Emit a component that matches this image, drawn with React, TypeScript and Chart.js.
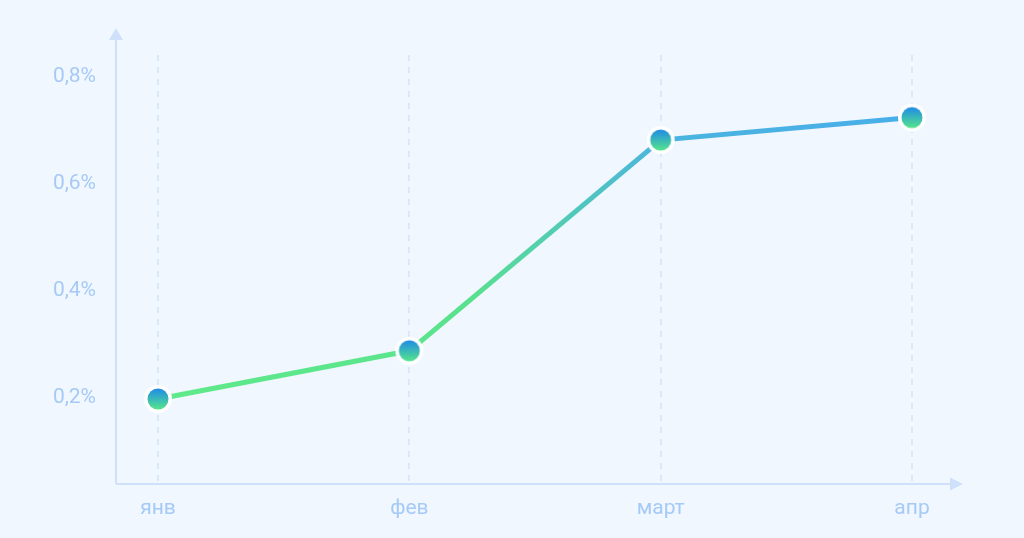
import React, { useEffect, useRef } from "react";
import { Chart, registerables } from "chart.js";

Chart.register(...registerables);

const categories = ["янв", "фев", "март", "апр"];
const values = [0.194, 0.284, 0.678, 0.72];
const yTicks = [0.2, 0.4, 0.6, 0.8];

const BG = "#f0f7ff";
const AXIS = "#cfe1fa";
const TICK = "#a6caf6";
const GRID = "#d9e8fa";

function makePointCanvas(): HTMLCanvasElement {
  const size = 30;
  const c = document.createElement("canvas");
  c.width = size;
  c.height = size;
  const ctx = c.getContext("2d")!;
  const cx = size / 2;
  const r = 10.5;
  ctx.beginPath();
  ctx.arc(cx, cx, r + 3.5, 0, Math.PI * 2);
  ctx.fillStyle = "#ffffff";
  ctx.fill();
  const g = ctx.createLinearGradient(0, cx - r, 0, cx + r);
  g.addColorStop(0, "#1f8be6");
  g.addColorStop(1, "#55e58c");
  ctx.beginPath();
  ctx.arc(cx, cx, r, 0, Math.PI * 2);
  ctx.fillStyle = g;
  ctx.fill();
  return c;
}

const axesPlugin = {
  id: "arrowAxes",
  beforeDatasetsDraw(chart: any) {
    const { ctx, chartArea } = chart;
    const x0 = chartArea.left - 42;
    const y0 = chartArea.bottom;
    const yTop = chartArea.top - 15;
    const xEnd = chartArea.right + 38;
    ctx.save();
    ctx.strokeStyle = AXIS;
    ctx.fillStyle = AXIS;
    ctx.lineWidth = 2;
    ctx.beginPath();
    ctx.moveTo(x0, y0);
    ctx.lineTo(x0, yTop);
    ctx.moveTo(x0, y0);
    ctx.lineTo(xEnd, y0);
    ctx.stroke();
    ctx.beginPath();
    ctx.moveTo(x0, yTop - 12);
    ctx.lineTo(x0 - 7, yTop);
    ctx.lineTo(x0 + 7, yTop);
    ctx.closePath();
    ctx.fill();
    ctx.beginPath();
    ctx.moveTo(xEnd + 13, y0);
    ctx.lineTo(xEnd, y0 - 6.5);
    ctx.lineTo(xEnd, y0 + 6.5);
    ctx.closePath();
    ctx.fill();
    ctx.restore();
  },
};

export default function App() {
  const ref = useRef<HTMLCanvasElement>(null);
  useEffect(() => {
    document.body.style.background = BG;
    const pointImg = makePointCanvas();
    const chart = new Chart(ref.current!, {
      type: "line",
      data: {
        labels: categories,
        datasets: [
          {
            data: values,
            borderWidth: 5,
            borderColor: (ctx: any) => {
              const ch = ctx.chart;
              const area = ch.chartArea;
              if (!area) return "#4fc1c0";
              const ys = ch.scales.y;
              const g = ch.ctx.createLinearGradient(0, ys.getPixelForValue(0.2), 0, ys.getPixelForValue(0.72));
              g.addColorStop(0, "#5ee98a");
              g.addColorStop(0.35, "#59e08f");
              g.addColorStop(1, "#48aeea");
              return g;
            },
            tension: 0,
            pointStyle: pointImg as any,
            pointRadius: 15,
            pointHoverRadius: 15,
            fill: false,
          },
        ],
      },
      options: {
        animation: false,
        responsive: false,
        layout: { padding: { left: 0, right: 112, top: 55, bottom: 0 } },
        plugins: { legend: { display: false }, tooltip: { enabled: false } },
        scales: {
          x: {
            offset: false,
            border: { display: false, dash: [6, 6] },
            grid: { display: true, color: GRID, lineWidth: 2, drawTicks: false },
            ticks: {
              color: TICK,
              padding: 12,
              font: { family: "Roboto", size: 21 },
              maxRotation: 0,
            },
            afterFit: (s: any) => {
              s.height = 54;
              s.paddingLeft = 0;
              s.paddingRight = 0;
            },
          },
          y: {
            min: 0.035,
            max: 0.837,
            border: { display: false },
            grid: { display: false, drawTicks: false },
            afterBuildTicks: (s: any) => {
              s.ticks = yTicks.map((v) => ({ value: v }));
            },
            ticks: {
              color: TICK,
              padding: 62,
              labelOffset: 2,
              font: { family: "Roboto", size: 21 },
              callback: (v: any) => String(v).replace(".", ",") + "%",
            },
            afterFit: (s: any) => {
              s.width = 158;
              s.paddingTop = 0;
              s.paddingBottom = 0;
            },
          },
        },
      },
      plugins: [axesPlugin],
    });
    return () => chart.destroy();
  }, []);
  return (
    <div style={{ position: "absolute", left: 0, top: 0, width: 1024, height: 538, background: BG }}>
      <canvas ref={ref} width={1024} height={538} style={{ display: "block" }} />
    </div>
  );
}
